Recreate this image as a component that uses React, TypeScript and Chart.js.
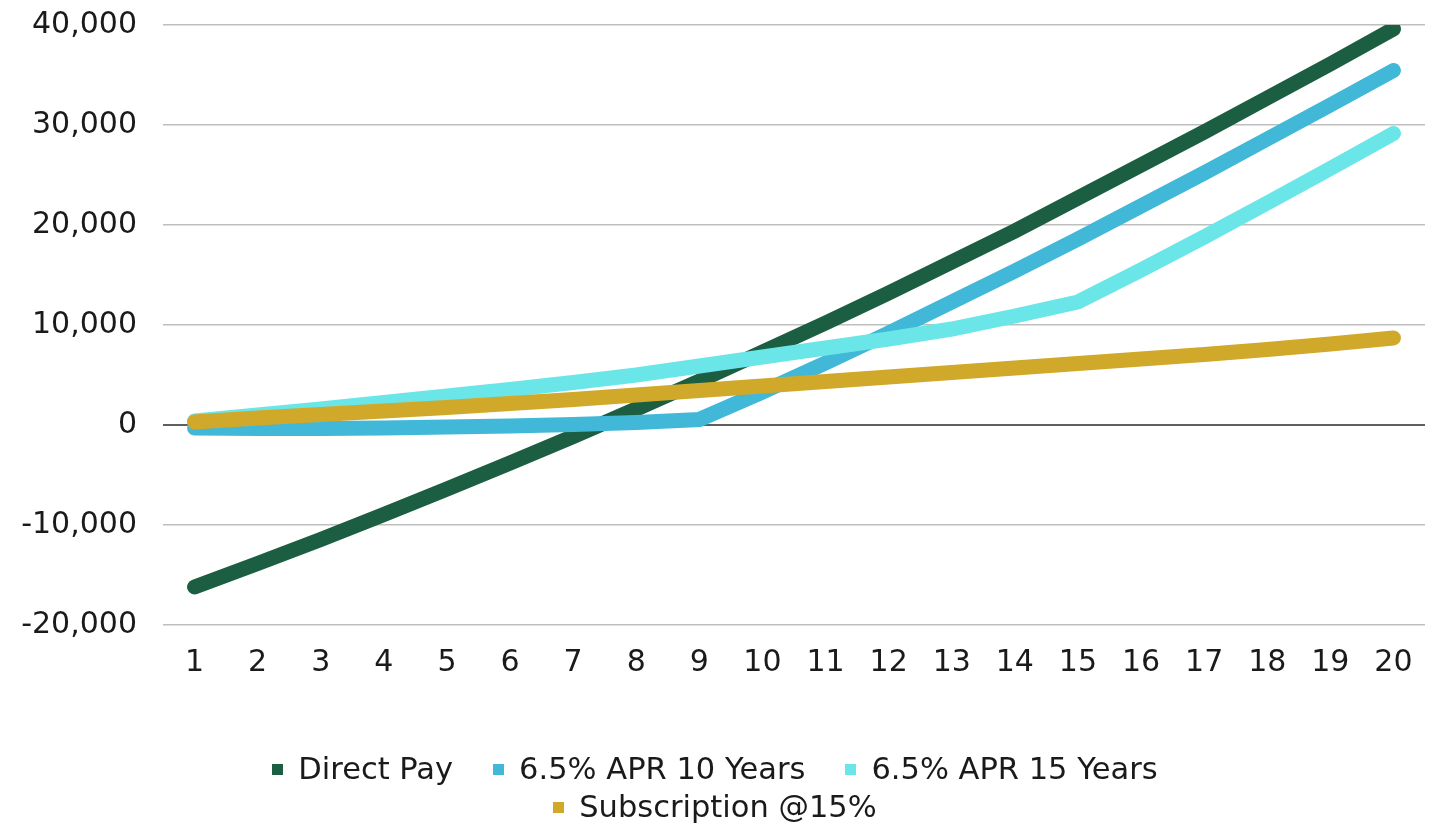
import React, { useEffect, useRef } from "react";
import { Chart, registerables } from "chart.js";

Chart.register(...registerables);

const years = ["1", "2", "3", "4", "5", "6", "7", "8", "9", "10", "11", "12", "13", "14", "15", "16", "17", "18", "19", "20"];
const directPay = [-16200, -13850, -11450, -8950, -6400, -3800, -1150, 1600, 4400, 7300, 10200, 13200, 16300, 19400, 22700, 26000, 29300, 32700, 36100, 39600];
const apr10Years = [-300, -350, -350, -300, -200, -100, 50, 250, 550, 3300, 6200, 9200, 12300, 15400, 18600, 21900, 25200, 28600, 32000, 35450];
const apr15Years = [400, 1000, 1600, 2250, 2900, 3550, 4250, 5000, 5900, 6800, 7700, 8600, 9600, 10900, 12300, 15500, 18800, 22200, 25650, 29150];
const subscription = [300, 700, 1050, 1400, 1750, 2150, 2550, 3000, 3450, 3900, 4350, 4800, 5250, 5700, 6150, 6600, 7050, 7550, 8100, 8700];

const seriesNames = ["Direct Pay", "6.5% APR 10 Years", "6.5% APR 15 Years", "Subscription @15%"];
const seriesColors = ["#1B5E41", "#42B8D8", "#6BE6E8", "#D0A82A"];
const seriesValues = [directPay, apr10Years, apr15Years, subscription];
const seriesOrder = [4, 3, 2, 1];

const yMin = -20000;
const yMax = 40000;
const yStep = 10000;

const FONT = "'DejaVu Sans', 'Noto Sans', sans-serif";

export default function App() {
  const canvasRef = useRef<HTMLCanvasElement>(null);

  useEffect(() => {
    if (!canvasRef.current) return;
    const chart = new Chart(canvasRef.current, {
      type: "line",
      data: {
        labels: years,
        datasets: seriesNames.map((name, i) => ({
          label: name,
          data: seriesValues[i],
          borderColor: seriesColors[i],
          backgroundColor: seriesColors[i],
          borderWidth: 15,
          borderCapStyle: "round" as const,
          borderJoinStyle: "miter" as const,
          pointRadius: 0,
          pointHoverRadius: 0,
          tension: 0,
          fill: false,
          order: seriesOrder[i],
        })),
      },
      options: {
        responsive: false,
        animation: false,
        layout: { padding: { top: 25, right: 5, left: 0, bottom: 140 } },
        plugins: {
          legend: { display: false },
          tooltip: { enabled: false },
        },
        scales: {
          x: {
            offset: true,
            grid: { display: false, drawTicks: false },
            border: { display: false },
            ticks: {
              font: { family: FONT, size: 30 },
              color: "#1a1a1a",
              padding: 20,
              maxRotation: 0,
              autoSkip: false,
            },
            afterFit: (s: any) => {
              s.height = 60;
              s.paddingLeft = 0;
              s.paddingRight = 0;
            },
          },
          y: {
            min: yMin,
            max: yMax,
            ticks: {
              stepSize: yStep,
              padding: 26,
              font: { family: FONT, size: 30 },
              color: "#1a1a1a",
              callback: (v: any) => Number(v).toLocaleString("en-US"),
            },
            grid: {
              drawTicks: false,
              color: (ctx: any) => (ctx.tick && ctx.tick.value === 0 ? "#5f5f5f" : "#BFBFBF"),
              lineWidth: (ctx: any) => (ctx.tick && ctx.tick.value === 0 ? 2 : 1.5),
            },
            border: { display: false },
            afterFit: (s: any) => {
              s.width = 163;
              s.paddingTop = 0;
              s.paddingBottom = 0;
            },
          },
        },
      },
    });
    return () => chart.destroy();
  }, []);

  return (
    <div style={{ position: "fixed", left: 0, top: 0, width: 1430, height: 825, background: "#ffffff", overflow: "hidden" }}>
      <canvas ref={canvasRef} width={1430} height={825} style={{ display: "block", width: 1430, height: 825 }} />
      <div style={{ position: "absolute", left: 0, top: 750, width: 1430, display: "flex", justifyContent: "center" }}>
        <div style={{ width: 1000, display: "flex", flexWrap: "wrap", justifyContent: "center", columnGap: 40, rowGap: 0 }}>
          {seriesNames.map((name, i) => (
            <div key={name} style={{ display: "flex", alignItems: "center", height: 38 }}>
              <span style={{ display: "inline-block", width: 11, height: 11, background: seriesColors[i], marginRight: 15 }} />
              <span style={{ fontFamily: FONT, fontSize: 30.5, lineHeight: "38px", color: "#1a1a1a", whiteSpace: "nowrap" }}>{name}</span>
            </div>
          ))}
        </div>
      </div>
    </div>
  );
}
